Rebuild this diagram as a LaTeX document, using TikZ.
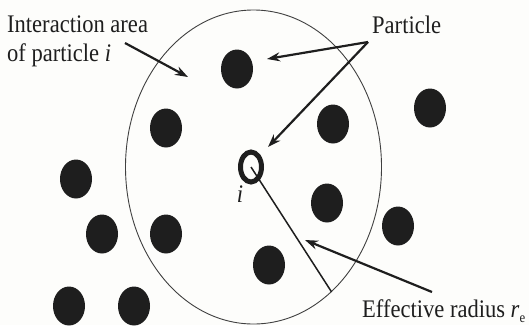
\documentclass[tikz,border=0pt]{standalone}
\usepackage{fontspec}
\setmainfont{Liberation Serif}
\usetikzlibrary{shapes.geometric,arrows.meta}
\definecolor{bg}{HTML}{FDFDFB}
\definecolor{ink}{HTML}{1E1E1E}
\newcommand\tallt[1]{\scalebox{0.98}[1.1]{#1}}
\begin{document}
\begin{tikzpicture}[x=1pt,y=-1pt,
  lbl/.style={font=\fontsize{23}{30}\selectfont, text=ink, inner sep=0pt},
  dot/.style={ellipse, fill=ink, minimum width=32pt, minimum height=39pt, inner sep=0pt},
  ring/.style={ellipse, draw=ink, line width=5pt, minimum width=21pt, minimum height=30pt, inner sep=0pt},
  arr/.style={draw=ink, line width=2.2pt, -{Stealth[length=13pt,width=9pt]}},
]
\fill[bg] (0,0) rectangle (529,325);
\useasboundingbox (0,0) rectangle (529,325);
% interaction area
\node[ellipse, draw=ink!85, line width=0.9pt, minimum width=256pt, minimum height=314pt, inner sep=0pt] (big) at (253.5,167) {};
% particles
\node[dot] (d1) at (237,69) {};
\node[dot] (d2) at (166,128) {};
\node[dot] (d3) at (333,124) {};
\node[dot] (d4) at (430,108) {};
\node[dot] (d5) at (76,179) {};
\node[dot] (d6) at (102,234) {};
\node[dot] (d7) at (166,234) {};
\node[dot] (d8) at (69,306) {};
\node[dot] (d9) at (134,306) {};
\node[dot] (d10) at (327,203) {};
\node[dot] (d11) at (398,226) {};
\node[dot] (d12) at (269,265) {};
% particle i
\node[ring] (pi) at (251,167) {};
\node[lbl, font=\fontsize{23}{30}\selectfont\itshape] (ilab) at (240,194) {\tallt{i}};
% effective radius line
\draw[ink, line width=1.5pt] (pi.center) -- (big.-58.5);
% labels
\node[lbl, align=left, anchor=north west] (ia) at (7,16) {\tallt{Interaction area}\\[-1pt]\tallt{of particle \textit{i}}};
\node[lbl, anchor=base west] (pl) at (372,33) {\tallt{Particle}};
\node[lbl, anchor=base west] (er) at (362,317) {\tallt{Effective radius \textit{r}\raisebox{-0.2em}{\fontsize{13}{13}\selectfont e}}};
% arrows
\coordinate (iaS) at (125,43);
\coordinate (iaT) at (188,77);
\coordinate (pS) at (368,42);
\coordinate (pT1) at (267,59);
\coordinate (pT2) at (268,147);
\coordinate (eS) at (432,292);
\coordinate (eT) at (305,240);
\draw[arr] (iaS) -- (iaT);
\draw[arr] (pS) -- (pT1);
\draw[arr] (pS) -- (pT2);
\draw[arr] (eS) -- (eT);
\end{tikzpicture}
\end{document}
